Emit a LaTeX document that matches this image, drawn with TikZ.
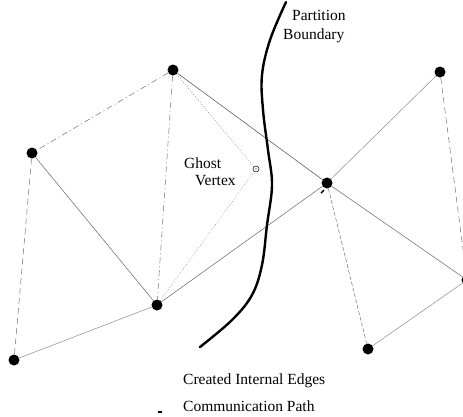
\documentclass[tikz,border=0pt]{standalone}
\usepackage{fontspec}
\setmainfont{Liberation Serif}
\begin{document}
\begin{tikzpicture}[x=1pt,y=-1pt,
  vtx/.style={circle,fill=black,inner sep=0pt,minimum size=11pt},
  ghost/.style={circle,draw=black,line width=0.5pt,inner sep=0pt,minimum size=6pt},
  edge/.style={draw=black!60,line width=0.5pt},
  dedge/.style={draw=black!55,line width=0.5pt,dashed,dash pattern=on 6pt off 4pt},
  ddedge/.style={draw=black!55,line width=0.5pt,dash pattern=on 6pt off 3pt on 1pt off 3pt},
  dotedge/.style={draw=black!50,line width=0.6pt,dotted},
  lbl/.style={font=\fontsize{15.5}{17}\selectfont,inner sep=0pt}]
\useasboundingbox (0,0) rectangle (463,416);
\fill[white] (0,0) rectangle (463,416);
% vertices
\node[vtx] (A) at (173,70) {};
\node[vtx] (B) at (32,153) {};
\node[vtx] (C) at (157,305) {};
\node[vtx] (D) at (14,360) {};
\node[vtx] (E) at (327,183) {};
\node[vtx] (F) at (440,72) {};
\node[vtx] (G) at (368,349) {};
\node[vtx] (H) at (467,280) {};
\node[ghost] (gv) at (256,169) {};
\fill (gv.center) circle (0.7pt);
% edges
\draw[ddedge] (A) -- (B);
\draw[ddedge] (A) -- (C);
\draw[edge,draw=black!70] (A) -- (E);
\draw[dotedge] (A) -- (gv);
\draw[dotedge] (gv) -- (C);
\draw[edge] (B) -- (C);
\draw[dedge] (B) -- (D);
\draw[edge,draw=black!45] (C) -- (D);
\draw[edge] (C) -- (E);
\draw[edge,draw=black!45] (E) -- (F);
\draw[dedge] (F) -- (H);
\draw[dedge,dash pattern=on 4pt off 2pt] (E) -- (G);
\draw[edge] (E) -- (H);
\draw[edge,draw=black!45] (G) -- (H);
% partition boundary
\draw[line width=2.4pt,line cap=round] plot[smooth,tension=0.6] coordinates
  {(286,2) (270,40) (262,75) (263,110) (268,150) (272,185) (267,225) (262,265) (252,295) (232,320) (200,347)};
% labels
\node[lbl,anchor=west] (p1) at (292,15) {Partition};
\node[lbl,anchor=west] (p2) at (283,36) {Boundary};
\node[lbl,anchor=west] (g1) at (184,163) {Ghost};
\node[lbl,anchor=west] (g2) at (195,181) {Vertex};
\node[lbl,anchor=west] (l1) at (183,381) {Created Internal Edges};
\node[lbl,anchor=west] (l2) at (183,406) {Communication Path};
% small marks
\coordinate (m1) at (158,412);
\coordinate (m2) at (162,412);
\draw[line width=1.6pt] (m1) -- (m2);
\coordinate (m3) at (321,193);
\coordinate (m4) at (324,190);
\draw[line width=1.4pt] (m3) -- (m4);
\end{tikzpicture}
\end{document}
